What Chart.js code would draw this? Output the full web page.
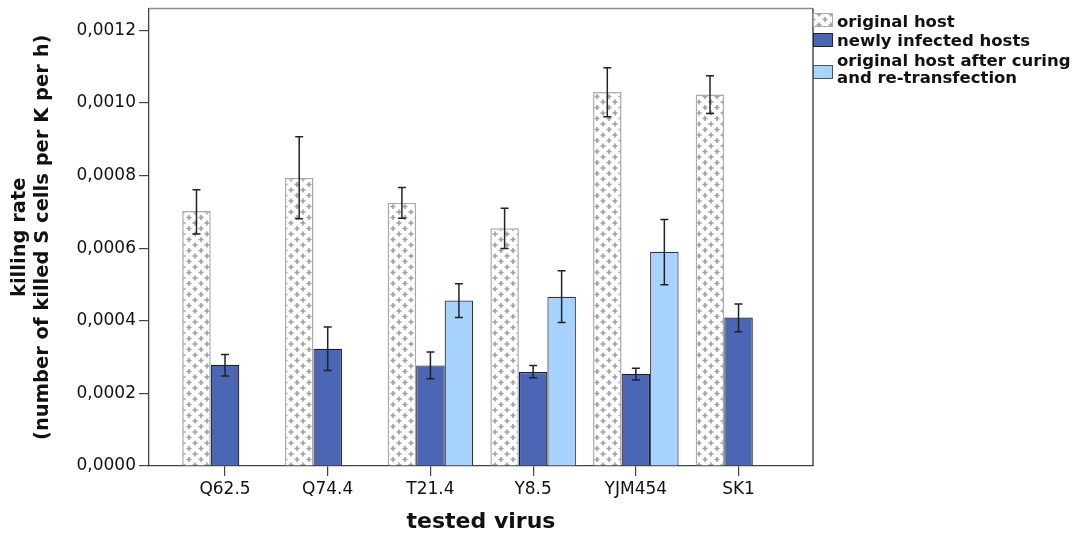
<!DOCTYPE html>
<html>
<head>
<meta charset="utf-8">
<script src="https://cdn.jsdelivr.net/npm/chart.js@4.4.0/dist/chart.umd.min.js"></script>
<style>
  html, body { margin: 0; padding: 0; background: #fff; }
</style>
</head>
<body>
<canvas id="killChart" width="1078" height="538"></canvas>
<script>
// categories
const viruses = ['Q62.5', 'Q74.4', 'T21.4', 'Y8.5', 'YJM454', 'SK1'];

// original host (mean, error bar ends)
const originalHost     = [0.000702, 0.000794, 0.000725, 0.000655, 0.001030, 0.001023];
const originalHostHigh = [0.000761, 0.000907, 0.000767, 0.000710, 0.001097, 0.001075];
const originalHostLow  = [0.000639, 0.000681, 0.000682, 0.000599, 0.000962, 0.000971];

// newly infected hosts
const newlyInfected     = [0.000279, 0.000323, 0.000277, 0.000259, 0.000254, 0.000409];
const newlyInfectedHigh = [0.000307, 0.000383, 0.000314, 0.000277, 0.000269, 0.000446];
const newlyInfectedLow  = [0.000248, 0.000263, 0.000240, 0.000243, 0.000237, 0.000370];

// original host after curing and re-transfection
const afterCuring     = [null, null, 0.000456, 0.000466, 0.000590, null];
const afterCuringHigh = [null, null, 0.000502, 0.000538, 0.000679, null];
const afterCuringLow  = [null, null, 0.000409, 0.000395, 0.000499, null];

const legendLabels = ['original host', 'newly infected hosts', ['original host after curing', 'and re-transfection']];

Chart.defaults.font.family = "'DejaVu Sans', sans-serif";
Chart.defaults.color = '#111';

// grey crosses on white, like the SPSS fill
function crossPattern() {
  const c = document.createElement('canvas');
  c.width = 12; c.height = 11;
  const g = c.getContext('2d');
  g.fillStyle = '#fff';
  g.fillRect(0, 0, 12, 11);
  g.fillStyle = '#a0a0a0';
  [[3, 3], [9, 8.5]].forEach(([x, y]) => {
    g.fillRect(x - 2.5, y - 0.8, 5, 1.6);
    g.fillRect(x - 0.8, y - 2.5, 1.6, 5);
  });
  return g.createPattern(c, 'repeat');
}
const hatch = crossPattern();
const darkBlue = '#4a66b4';
const lightBlue = '#a6d3ff';

const toPoints = arr => arr.map((v, i) => ({ x: i, y: v }));

const errorBars = [
  { low: originalHostLow, high: originalHostHigh },
  { low: newlyInfectedLow, high: newlyInfectedHigh },
  { low: afterCuringLow, high: afterCuringHigh }
];

const errorBarPlugin = {
  id: 'errorBars',
  afterDatasetsDraw(chart) {
    const ctx = chart.ctx;
    const y = chart.scales.y;
    ctx.save();
    ctx.strokeStyle = '#222';
    ctx.lineWidth = 1.5;
    errorBars.forEach((eb, d) => {
      const meta = chart.getDatasetMeta(d);
      meta.data.forEach((bar, i) => {
        if (eb.low[i] == null) return;
        const yl = y.getPixelForValue(eb.low[i]);
        const yh = y.getPixelForValue(eb.high[i]);
        ctx.beginPath();
        ctx.moveTo(bar.x, yh); ctx.lineTo(bar.x, yl);
        ctx.moveTo(bar.x - 4, yh); ctx.lineTo(bar.x + 4, yh);
        ctx.moveTo(bar.x - 4, yl); ctx.lineTo(bar.x + 4, yl);
        ctx.stroke();
      });
    });
    ctx.restore();
  }
};

const framePlugin = {
  id: 'frame',
  afterDraw(chart) {
    const { ctx, chartArea: a } = chart;
    ctx.save();
    ctx.lineWidth = 1.3;
    ctx.strokeStyle = '#8c8c8c';
    ctx.beginPath();
    ctx.moveTo(a.left, a.top); ctx.lineTo(a.right, a.top);
    ctx.stroke();
    ctx.strokeStyle = '#333';
    ctx.beginPath();
    ctx.moveTo(a.right, a.top); ctx.lineTo(a.right, a.bottom);
    ctx.stroke();

    // legend, hung on the right edge of the frame
    const fills = [hatch, darkBlue, lightBlue];
    const borders = ['#aaa', '#222', '#555'];
    const swatchY = [13, 33, 65];
    const textY = [[27], [46], [66, 83]];
    ctx.font = "bold 16.5px 'DejaVu Sans'";
    ctx.textBaseline = 'alphabetic';
    ctx.textAlign = 'left';
    fills.forEach((f, k) => {
      ctx.fillStyle = f;
      ctx.fillRect(a.right, swatchY[k], 20, 14);
      ctx.strokeStyle = borders[k];
      ctx.lineWidth = 1;
      ctx.strokeRect(a.right + 0.5, swatchY[k] + 0.5, 19, 13);
      ctx.fillStyle = '#111';
      const lines = [].concat(legendLabels[k]);
      lines.forEach((t, j) => ctx.fillText(t, a.right + 24, textY[k][j]));
    });
    ctx.restore();
  }
};

new Chart(document.getElementById('killChart'), {
  type: 'bar',
  data: {
    datasets: [
      {
        label: 'original host',
        data: toPoints(originalHost),
        backgroundColor: hatch,
        borderColor: '#aaaaaa',
        borderWidth: 1.5
      },
      {
        label: 'newly infected hosts',
        data: toPoints(newlyInfected),
        backgroundColor: darkBlue,
        borderColor: '#1e1e1e',
        borderWidth: 1.2
      },
      {
        label: 'original host after curing and re-transfection',
        data: toPoints(afterCuring),
        backgroundColor: lightBlue,
        borderColor: '#333',
        borderWidth: 1.2
      }
    ]
  },
  options: {
    responsive: false,
    animation: false,
    categoryPercentage: 0.833,
    barPercentage: 1,
    layout: { padding: { top: 8.5, right: 265, left: 0, bottom: 0 } },
    plugins: {
      legend: { display: false },
      tooltip: { enabled: false }
    },
    scales: {
      x: {
        type: 'linear',
        min: -0.74,
        max: 5.725,
        offset: false,
        afterBuildTicks: s => { s.ticks = viruses.map((_, i) => ({ value: i })); },
        afterFit: s => { s.height = 72; s.paddingLeft = 0; s.paddingRight = 0; },
        grid: { offset: false, drawOnChartArea: false, drawTicks: true, tickLength: 10, color: '#444', lineWidth: 1.2 },
        border: { color: '#444', width: 1.3 },
        ticks: {
          callback: v => viruses[v] ?? '',
          font: { size: 17 },
          color: '#111',
          padding: 3,
          autoSkip: false,
          maxRotation: 0
        },
        title: {
          display: true,
          text: 'tested virus',
          font: { size: 22, weight: 'bold' },
          color: '#111',
          padding: { top: 0, bottom: 3 }
        }
      },
      y: {
        min: 0,
        max: 0.00126,
        afterFit: s => { s.width = 149; s.paddingTop = 0; s.paddingBottom = 0; },
        grid: { drawOnChartArea: false, drawTicks: true, tickLength: 10, color: '#444', lineWidth: 1.2 },
        border: { color: '#444', width: 1.3 },
        ticks: {
          stepSize: 0.0002,
          includeBounds: false,
          callback: v => v.toFixed(4).replace('.', ','),
          font: { size: 17 },
          color: '#111',
          padding: 3
        },
        title: {
          display: true,
          text: ['killing rate', '(number of killed S cells per K per h)'],
          font: { size: 19.5, weight: 'bold', lineHeight: 1.15 },
          color: '#111',
          padding: { top: 9, bottom: 0 }
        }
      }
    }
  },
  plugins: [errorBarPlugin, framePlugin]
});
</script>
</body>
</html>
